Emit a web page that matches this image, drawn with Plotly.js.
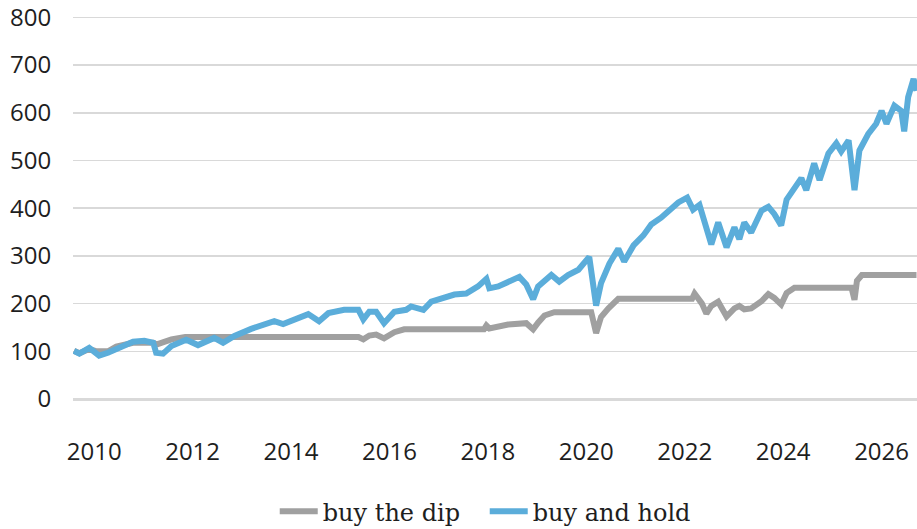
<!DOCTYPE html>
<html>
<head>
<meta charset="utf-8">
<script src="https://cdn.plot.ly/plotly-3.0.1.min.js"></script>
<style>
  html, body { margin: 0; padding: 0; background: #fff; }
  #chart { width: 917px; height: 529px; }
</style>
</head>
<body>
<div id="chart"></div>
<script>
// Values (decimal years, index start = 100)
var holdYears = [2009.59, 2009.70, 2009.90, 2010.10, 2010.28, 2010.51, 2010.79, 2011.02, 2011.20, 2011.26,
  2011.40, 2011.57, 2011.87, 2012.11, 2012.44, 2012.62, 2012.85, 2013.19, 2013.39, 2013.66,
  2013.84, 2014.07, 2014.35, 2014.57, 2014.76, 2015.08, 2015.37, 2015.47, 2015.59, 2015.73,
  2015.89, 2016.10, 2016.34, 2016.44, 2016.69, 2016.85, 2017.05, 2017.32, 2017.56, 2017.80,
  2017.97, 2018.03, 2018.21, 2018.41, 2018.64, 2018.78, 2018.92, 2019.02, 2019.29, 2019.45,
  2019.63, 2019.84, 2020.06, 2020.20, 2020.30, 2020.47, 2020.65, 2020.77, 2020.96, 2021.16,
  2021.32, 2021.52, 2021.73, 2021.87, 2022.05, 2022.17, 2022.30, 2022.44, 2022.54, 2022.68,
  2022.85, 2023.01, 2023.11, 2023.21, 2023.35, 2023.56, 2023.70, 2023.82, 2023.96, 2024.07,
  2024.23, 2024.37, 2024.47, 2024.63, 2024.74, 2024.92, 2025.08, 2025.18, 2025.33, 2025.39,
  2025.45, 2025.55, 2025.73, 2025.89, 2026.00, 2026.10, 2026.26, 2026.40, 2026.46, 2026.54,
  2026.65, 2026.71];
var holdValues = [101, 95, 107, 91, 97, 107, 120, 122, 118, 97,
  95, 111, 124, 113, 128, 118, 132, 147, 153, 163,
  157, 167, 178, 163, 180, 187, 187, 167, 183, 183,
  159, 183, 187, 194, 187, 204, 211, 219, 221, 236,
  252, 232, 236, 246, 256, 240, 209, 236, 260, 246,
  260, 271, 298, 196, 243, 284, 315, 288, 322, 343,
  366, 380, 401, 412, 422, 397, 407, 355, 324, 370,
  318, 360, 335, 370, 349, 395, 403, 388, 364, 418,
  443, 463, 438, 494, 459, 515, 536, 519, 542, 488,
  438, 521, 556, 577, 604, 577, 615, 604, 561, 633,
  671, 646];

var dipYears = [2009.59, 2009.70, 2009.90, 2010.05, 2010.28, 2010.45, 2010.79, 2011.20, 2011.26, 2011.45,
  2011.57, 2011.85, 2015.37, 2015.47, 2015.59, 2015.73, 2015.89, 2016.10, 2016.30, 2017.92,
  2017.97, 2018.03, 2018.21, 2018.41, 2018.78, 2018.92, 2019.02, 2019.15, 2019.35, 2020.10,
  2020.20, 2020.30, 2020.45, 2020.65, 2022.15, 2022.20, 2022.35, 2022.44, 2022.54, 2022.68,
  2022.85, 2023.01, 2023.11, 2023.21, 2023.35, 2023.56, 2023.70, 2023.82, 2023.96, 2024.07,
  2024.23, 2025.39, 2025.45, 2025.50, 2025.60, 2026.71];
var dipValues = [101, 96, 105, 100, 100, 110, 118, 118, 114, 122,
  125, 130, 130, 125, 133, 135, 127, 140, 146, 146,
  154, 148, 152, 156, 159, 146, 160, 175, 182, 182,
  138, 172, 190, 210, 210, 221, 200, 179, 195, 204,
  173, 190, 195, 188, 190, 205, 220, 212, 198, 222,
  233, 233, 208, 248, 260, 260];

var yTicks = [0, 100, 200, 300, 400, 500, 600, 700, 800];
var xTicks = [2010, 2012, 2014, 2016, 2018, 2020, 2022, 2024, 2026];

var dip = {
  type: 'scatter', mode: 'lines', name: 'buy the dip',
  x: dipYears, y: dipValues,
  line: {color: '#a0a0a0', width: 6}
};
var hold = {
  type: 'scatter', mode: 'lines', name: 'buy and hold',
  x: holdYears, y: holdValues,
  line: {color: '#5badda', width: 6}
};

var layout = {
  width: 917, height: 529,
  margin: {l: 73, r: 0, t: 14.6, b: 130.3},
  paper_bgcolor: '#fff', plot_bgcolor: '#fff',
  font: {family: 'Open Sans, sans-serif', size: 24, color: '#1e1e1e'},
  showlegend: true,
  legend: {
    orientation: 'h', xref: 'container', yref: 'container',
    x: 0.2996, xanchor: 'left', y: 0.033, yanchor: 'middle',
    itemwidth: 38, entrywidth: 157, entrywidthmode: 'pixels',
    font: {family: 'DejaVu Serif, serif', size: 24, color: '#1e1e1e'},
    traceorder: 'normal'
  },
  xaxis: {
    range: [2009.57, 2026.72], automargin: false,
    tickvals: xTicks, ticktext: xTicks.map(String),
    showgrid: false, zeroline: false, showline: false,
    ticks: 'outside', ticklen: 31, tickcolor: 'rgba(0,0,0,0)'
  },
  yaxis: {
    range: [0, 805], automargin: false, ticklabeloverflow: 'allow',
    tickvals: yTicks,
    showgrid: true, gridcolor: '#d9d9d9', gridwidth: 1.5,
    zeroline: true, zerolinecolor: '#d9d9d9', zerolinewidth: 3,
    showline: false,
    ticks: 'outside', ticklen: 16, tickcolor: 'rgba(0,0,0,0)'
  }
};

Plotly.newPlot('chart', [dip, hold], layout, {displayModeBar: false, staticPlot: true});
</script>
</body>
</html>
